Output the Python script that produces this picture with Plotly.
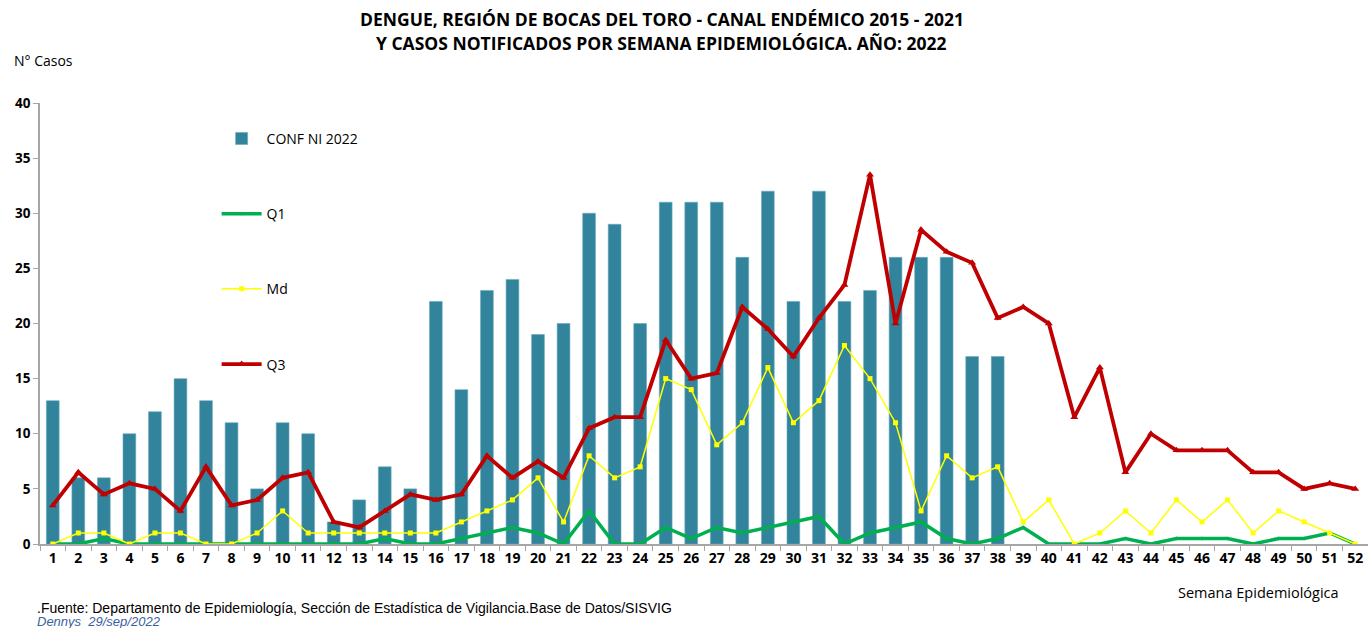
import plotly.graph_objects as go

weeks = list(range(1, 53))
week_labels = [str(w) for w in weeks]

conf_2022 = [13, 6, 6, 10, 12, 15, 13, 11, 5, 11, 10, 2, 4, 7, 5, 22, 14, 23, 24, 19,
             20, 30, 29, 20, 31, 31, 31, 26, 32, 22, 32, 22, 23, 26, 26, 26, 17, 17]

q1 = [0, 0, 0.5, 0, 0, 0, 0, 0, 0, 0, 0, 0, 0, 0.5, 0, 0, 0.5, 1, 1.5, 1,
      0, 3, 0, 0, 1.5, 0.5, 1.5, 1, 1.5, 2, 2.5, 0, 1, 1.5, 2, 0.5, 0, 0.5, 1.5, 0,
      0, 0, 0.5, 0, 0.5, 0.5, 0.5, 0, 0.5, 0.5, 1, 0]

md = [0, 1, 1, 0, 1, 1, 0, 0, 1, 3, 1, 1, 1, 1, 1, 1, 2, 3, 4, 6,
      2, 8, 6, 7, 15, 14, 9, 11, 16, 11, 13, 18, 15, 11, 3, 8, 6, 7, 2, 4,
      0, 1, 3, 1, 4, 2, 4, 1, 3, 2, 1, 0]

q3 = [3.5, 6.5, 4.5, 5.5, 5, 3, 7, 3.5, 4, 6, 6.5, 2, 1.5, 3, 4.5, 4, 4.5, 8, 6, 7.5,
      6, 10.5, 11.5, 11.5, 18.5, 15, 15.5, 21.5, 19.5, 17, 20.5, 23.5, 33.5, 20, 28.5, 26.5, 25.5, 20.5, 21.5, 20,
      11.5, 16, 6.5, 10, 8.5, 8.5, 8.5, 6.5, 6.5, 5, 5.5, 5]

title_lines = ["DENGUE, REGIÓN DE BOCAS DEL TORO - CANAL ENDÉMICO 2015 - 2021",
               "Y CASOS NOTIFICADOS POR SEMANA EPIDEMIOLÓGICA. AÑO: 2022"]

SANS = "Open Sans, Lato, Arial, sans-serif"
ARIAL = "Liberation Sans, Arial, sans-serif"

fig = go.Figure()
fig.add_trace(go.Bar(
    x=week_labels[:len(conf_2022)], y=conf_2022, name="CONF NI 2022",
    marker=dict(color="#31849B", line=dict(color="#6aaabd", width=0.6)),
    width=0.5, legendgroup="a"))
fig.add_trace(go.Scatter(
    x=week_labels, y=q1, name="Q1", mode="lines+markers",
    line=dict(color="#00B050", width=3.5),
    marker=dict(symbol="diamond", size=3, color="#00B050"), legendgroup="b"))
fig.add_trace(go.Scatter(
    x=week_labels, y=md, name="Md", mode="lines+markers",
    line=dict(color="#FFFF00", width=1.5),
    marker=dict(symbol="square", size=5, color="#FFFF00"), legendgroup="c"))
fig.add_trace(go.Scatter(
    x=week_labels, y=q3, name="Q3", mode="lines+markers",
    line=dict(color="#C00000", width=3.8),
    marker=dict(symbol="triangle-up", size=7, color="#C00000"), legendgroup="d"))

fig.update_layout(
    width=1368, height=628,
    margin=dict(l=40, r=0, t=103, b=84, autoexpand=False),
    paper_bgcolor="white", plot_bgcolor="white",
    font=dict(family=SANS, color="black"),
    showlegend=True,
    legend=dict(x=0.133, y=0.955, xanchor="left", yanchor="top",
                tracegroupgap=54, itemwidth=40,
                font=dict(family=SANS, size=14, color="black"),
                bgcolor="rgba(0,0,0,0)"),
)

fig.add_annotation(text="<b>" + title_lines[0] + "</b>", xref="paper", yref="paper",
                   x=0.468, y=(544 - 19) / 441, xanchor="center", yanchor="middle", showarrow=False,
                   font=dict(family=SANS, size=17.5, color="black"))
fig.add_annotation(text="<b>" + title_lines[1] + "</b>", xref="paper", yref="paper",
                   x=0.468, y=(544 - 43) / 441, xanchor="center", yanchor="middle", showarrow=False,
                   font=dict(family=SANS, size=17.5, color="black"))

fig.update_xaxes(
    type="category", categoryorder="array", categoryarray=week_labels,
    range=[-0.5, 51.5], automargin=False,
    tickson="boundaries", ticks="outside", ticklen=5, tickcolor="#A6A6A6",
    showline=True, linecolor="#A6A6A6", linewidth=1.5,
    showgrid=False, tickangle=0,
    tickfont=dict(family=SANS, size=14, color="black", weight="bold"),
)
fig.update_yaxes(
    range=[0, 40], dtick=5, ticks="outside", ticklen=5, tickcolor="#A6A6A6", automargin=False,
    showline=True, linecolor="#A6A6A6", linewidth=1.5, showgrid=False, zeroline=False,
    tickfont=dict(family=SANS, size=13.5, color="black", weight="bold"),
)

fig.add_annotation(text="N° Casos", xref="paper", yref="paper", x=-0.021, y=(544 - 61) / 441,
                   xanchor="left", yanchor="middle", showarrow=False,
                   font=dict(family=SANS, size=14, color="black"))
fig.add_annotation(text="Semana Epidemiológica", xref="paper", yref="paper", x=0.980, y=(544 - 592) / 441,
                   xanchor="right", yanchor="middle", showarrow=False,
                   font=dict(family=SANS, size=14.5, color="black"))
fig.add_annotation(text=".Fuente: Departamento de Epidemiología, Sección de Estadística de Vigilancia.Base de Datos/SISVIG",
                   xref="paper", yref="paper", x=-0.004, y=(544 - 608) / 441,
                   xanchor="left", yanchor="middle", showarrow=False,
                   font=dict(family=ARIAL, size=14, color="black"))
fig.add_annotation(text="<i>Dennys  29/sep/2022</i>",
                   xref="paper", yref="paper", x=-0.004, y=(544 - 621) / 441,
                   xanchor="left", yanchor="middle", showarrow=False,
                   font=dict(family=ARIAL, size=13, color="#3A62A0"))

fig.write_html("out.html", config={"displayModeBar": False},
               post_script="document.body.style.margin='0';document.body.style.overflow='hidden';")
